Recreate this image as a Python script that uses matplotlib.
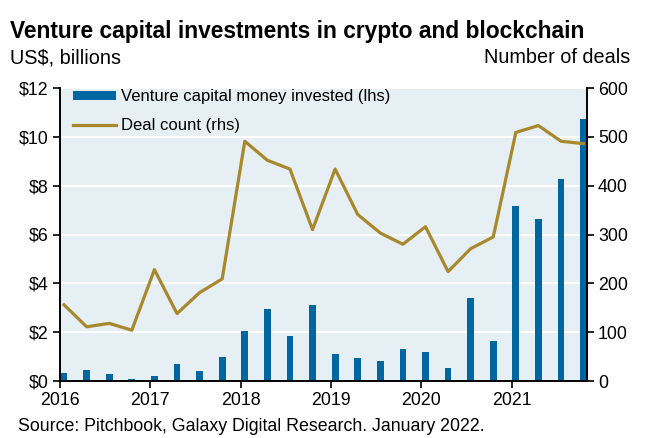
import matplotlib.pyplot as plt
from matplotlib.ticker import FuncFormatter

plt.rcParams["font.family"] = ["Liberation Sans", "DejaVu Sans"]

AZUL = "#0066A1"
OURO = "#A8882C"
FUNDO_EIXO = "#E6EFF3"

anos = ["2016", "2017", "2018", "2019", "2020", "2021"]

# investimento trimestral (US$ bi), 2016 T1 .. 2021 T4
investido = [0.31, 0.45, 0.27, 0.08,
             0.22, 0.68, 0.41, 0.97,
             2.03, 2.93, 1.84, 3.11,
             1.10, 0.93, 0.82, 1.30,
             1.19, 0.55, 3.38, 1.62,
             7.16, 6.64, 8.28, 10.73]

# numero de negocios por trimestre
negocios = [156, 111, 118, 104,
            228, 138, 181, 209,
            491, 452, 434, 310,
            434, 341, 303, 280,
            316, 224, 271, 295,
            509, 523, 491, 486]

W, H = 653, 438
fig = plt.figure(figsize=(W / 100, H / 100), dpi=100)
ax = fig.add_axes([60 / W, 1 - 381 / H, 527 / W, 293 / H])
ax.set_facecolor(FUNDO_EIXO)

x = [i + 0.18 for i in range(len(investido))]
barras = ax.bar(x, investido, width=0.3, color=AZUL, zorder=2,
                label="Venture capital money invested (lhs)")

ax.set_xlim(0, 23.33)
ax.set_ylim(0, 12)
ax.set_yticks(range(0, 13, 2))
ax.yaxis.set_major_formatter(FuncFormatter(lambda v, p: f"${v:.0f}"))
ax.set_xticks(range(0, 24, 4))
ax.set_xticklabels(anos)
ax.grid(axis="y", color="white", linewidth=1.5, zorder=0)
ax.set_axisbelow(True)

ax2 = ax.twinx()
linha, = ax2.plot(x, negocios, color=OURO, linewidth=2.3, zorder=3,
                  label="Deal count (rhs)")
ax2.set_ylim(0, 600)
ax2.set_yticks(range(0, 601, 100))

for a in (ax, ax2):
    a.spines["top"].set_visible(False)
    for s in ("left", "right", "bottom"):
        a.spines[s].set_color("black")
        a.spines[s].set_linewidth(1.2)
    a.tick_params(direction="out", length=5, width=1.2, labelsize=12.8,
                  colors="black", pad=3)

ax2.legend([barras, linha], [barras.get_label(), linha.get_label()],
           loc="upper left", bbox_to_anchor=(0.005, 1.03), frameon=False,
           fontsize=12, handlelength=2.6, handleheight=0.5, handletextpad=0.3,
           labelspacing=0.85, borderaxespad=0.2)

fig.text(10 / W, 1 - 38 / H, "Venture capital investments in crypto and blockchain",
         fontsize=16.4, fontweight="bold", va="baseline", ha="left")
fig.text(10 / W, 1 - 63 / H, "US$, billions", fontsize=14.3,
         va="baseline", ha="left")
fig.text(630 / W, 1 - 63 / H, "Number of deals", fontsize=14.3,
         va="baseline", ha="right")
fig.text(18 / W, 1 - 431 / H, "Source: Pitchbook, Galaxy Digital Research. January 2022.",
         fontsize=12.8, va="baseline", ha="left")

fig.savefig("out.png", dpi=100, facecolor="white")
